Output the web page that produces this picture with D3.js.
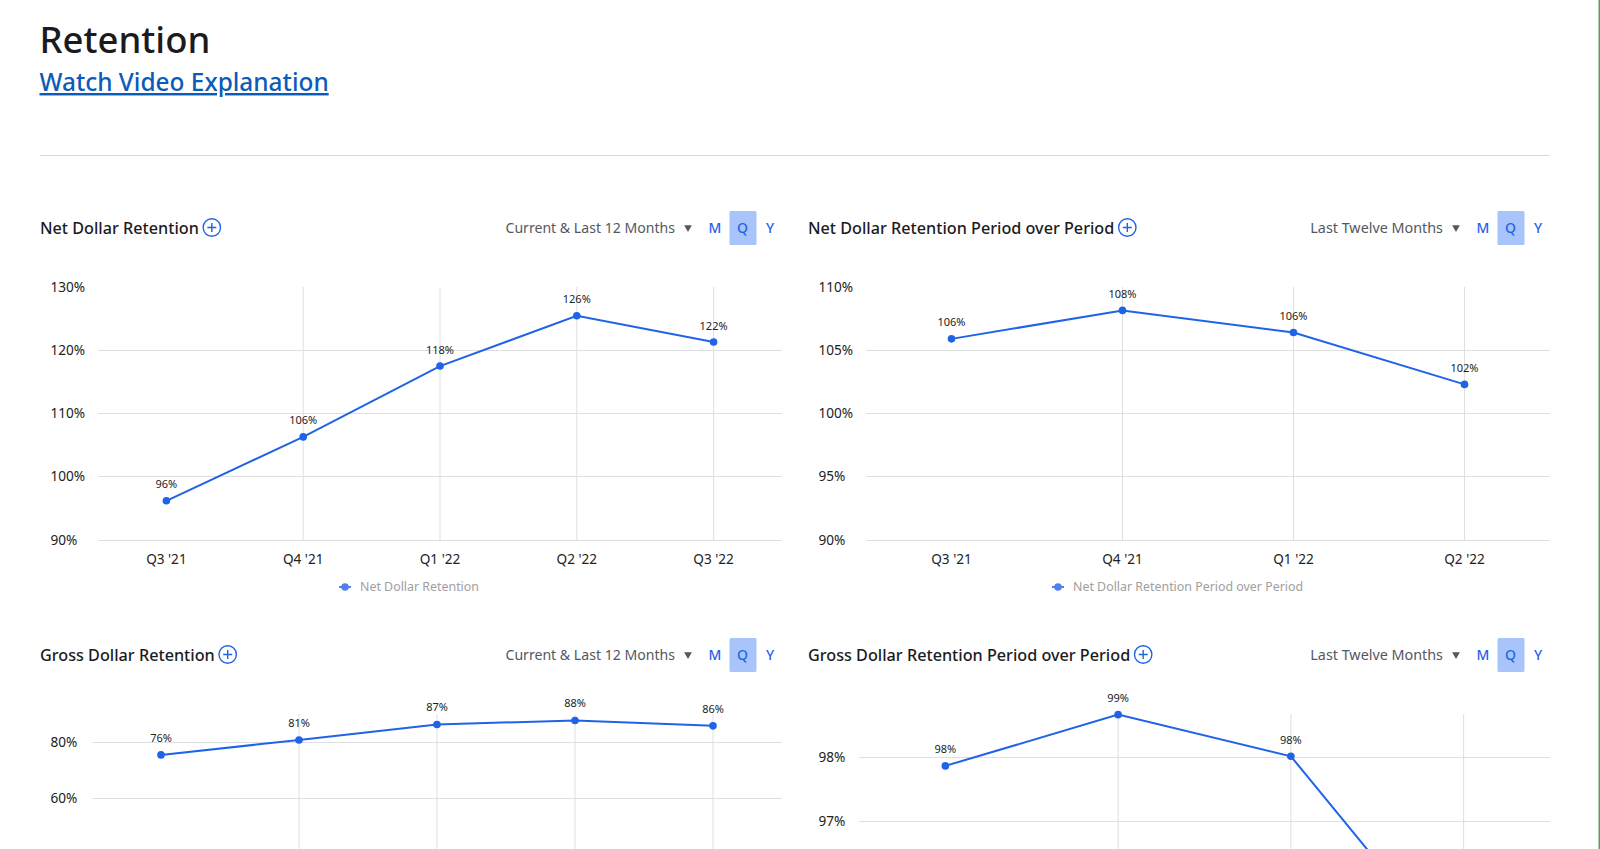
<!DOCTYPE html>
<html>
<head>
<meta charset="utf-8">
<title>Retention</title>
<script src="https://cdnjs.cloudflare.com/ajax/libs/d3/7.8.5/d3.min.js"></script>
<style>
  html, body { margin: 0; padding: 0; background: #fff; overflow: hidden; }
  svg { display: block; font-family: "Noto Sans", sans-serif; }
  .grid line { stroke: #dedfe3; stroke-width: 1; }
  .xaxis text, .yaxis text { fill: #222; font-size: 13.6px; }
  .point-label { fill: #222; font-size: 11px; text-anchor: middle; }
  .legend { fill: #a0a0a0; font-size: 12.4px; }
</style>
</head>
<body>
<svg id="page" width="1600" height="849"></svg>
<script>
// Page text
var pageTitle = "Retention";
var videoLink = "Watch Video Explanation";
var periodButtons = ["M", "Q", "Y"];

// Net Dollar Retention
var ndrQuarters = ["Q3 '21", "Q4 '21", "Q1 '22", "Q2 '22", "Q3 '22"];
var ndrValues = [96.2, 106.3, 117.5, 125.45, 121.3];
var ndrLabels = ["96%", "106%", "118%", "126%", "122%"];
var ndrTicks = [90, 100, 110, 120, 130];

// Net Dollar Retention Period over Period
var ndrPopQuarters = ["Q3 '21", "Q4 '21", "Q1 '22", "Q2 '22"];
var ndrPopValues = [105.9, 108.15, 106.4, 102.3];
var ndrPopLabels = ["106%", "108%", "106%", "102%"];
var ndrPopTicks = [90, 95, 100, 105, 110];

// Gross Dollar Retention
var gdrQuarters = ["Q3 '21", "Q4 '21", "Q1 '22", "Q2 '22", "Q3 '22"];
var gdrValues = [75.5, 80.8, 86.3, 87.7, 85.8];
var gdrLabels = ["76%", "81%", "87%", "88%", "86%"];
var gdrTicks = [0, 20, 40, 60, 80];

// Gross Dollar Retention Period over Period (last point falls below the fold)
var gdrPopQuarters = ["Q3 '21", "Q4 '21", "Q1 '22", "Q2 '22"];
var gdrPopValues = [97.87, 98.67, 98.02, 94.73];
var gdrPopLabels = ["98%", "99%", "98%", "95%"];
var gdrPopTicks = [95, 96, 97, 98];

var blue = "#1f63e8";
var svg = d3.select("#page");

// header
svg.append("text").attr("x", 39.5).attr("y", 53).attr("font-size", 36.5).attr("font-weight", 500).attr("fill", "#1b1b1d").text(pageTitle);
svg.append("text").attr("x", 39.5).attr("y", 91).attr("font-size", 24.4).attr("font-weight", 500).attr("fill", "#0b5cb8")
  .attr("text-decoration", "underline").text(videoLink);
svg.append("line").attr("x1", 40).attr("x2", 1550).attr("y1", 155.5).attr("y2", 155.5).attr("stroke", "#d6d8db");

// thin green edge at the right of the screenshot
svg.append("rect").attr("x", 1598.5).attr("y", 0).attr("width", 1.5).attr("height", 849).attr("fill", "#5f9a5f");

function drawPanel(opt) {
  var g = svg.append("g");
  var x = d3.scaleBand().domain(opt.quarters).range([opt.left, opt.right]);
  var y = d3.scaleLinear().domain(opt.domain).range([opt.bottom, opt.top]);
  var cx = function(d) { return x(d) + x.bandwidth() / 2; };

  // heading row
  var head = g.append("text").attr("x", opt.headX).attr("y", opt.headY + 6).attr("font-size", 16.2)
    .attr("font-weight", 500).attr("fill", "#1b1b1d").text(opt.title);
  var w = head.node().getComputedTextLength();
  var icon = g.append("g").attr("transform", "translate(" + (opt.headX + w + 13) + "," + opt.headY + ")")
    .attr("fill", "none").attr("stroke", blue).attr("stroke-width", 1.4);
  icon.append("circle").attr("r", 8.7);
  icon.append("path").attr("d", "M-4.5,0H4.5M0,-4.5V4.5");

  g.append("text").attr("x", opt.right - 107).attr("y", opt.headY + 5).attr("text-anchor", "end")
    .attr("font-size", opt.rangeSize).attr("fill", "#54585f").text(opt.range);
  g.append("path").attr("d", d3.symbol(d3.symbolTriangle, 26)()).attr("fill", "#54585f")
    .attr("transform", "translate(" + (opt.right - 94) + "," + opt.headY + ") rotate(180)");
  g.append("rect").attr("x", opt.right - 52.5).attr("y", opt.headY - 16.5).attr("width", 27).attr("height", 34)
    .attr("rx", 1.5).attr("fill", "#a9c3fb");
  periodButtons.forEach(function(b, i) {
    g.append("text").attr("x", opt.right - 67 + i * 27.5).attr("y", opt.headY + 5).attr("text-anchor", "middle")
      .attr("font-size", 14).attr("font-weight", 500).attr("fill", blue).text(b);
  });

  // horizontal grid
  g.append("g").attr("class", "grid").selectAll("line")
    .data(opt.ticks.filter(function(t) { return t !== opt.noGrid; })).enter().append("line")
    .attr("x1", opt.left).attr("x2", opt.right)
    .attr("y1", function(d) { return Math.floor(y(d)) + 0.5; })
    .attr("y2", function(d) { return Math.floor(y(d)) + 0.5; });

  // vertical grid, none at the first category
  g.append("g").attr("class", "grid").selectAll("line")
    .data(opt.quarters.slice(1)).enter().append("line")
    .attr("x1", cx).attr("x2", cx).attr("y1", opt.top).attr("y2", opt.bottom);

  // y axis labels
  g.append("g").attr("class", "yaxis").selectAll("text").data(opt.ticks).enter().append("text")
    .attr("x", opt.labelX).attr("y", function(d) { return y(d) + 4.5; }).text(function(d) { return d + "%"; });

  // x axis labels
  g.append("g").attr("class", "xaxis").selectAll("text").data(opt.quarters).enter().append("text")
    .attr("x", cx).attr("y", opt.bottom + 24).attr("text-anchor", "middle").text(function(d) { return d; });

  // series
  var line = d3.line().x(function(d, i) { return cx(opt.quarters[i]); }).y(function(d) { return y(d); });
  g.append("path").datum(opt.values).attr("d", line).attr("fill", "none").attr("stroke", blue).attr("stroke-width", 2);
  g.selectAll("circle.pt").data(opt.values).enter().append("circle").attr("class", "pt")
    .attr("cx", function(d, i) { return cx(opt.quarters[i]); }).attr("cy", function(d) { return y(d); })
    .attr("r", 3.8).attr("fill", blue);
  g.selectAll("text.point-label").data(opt.values).enter().append("text").attr("class", "point-label")
    .attr("x", function(d, i) { return cx(opt.quarters[i]); }).attr("y", function(d) { return y(d) - opt.labelGap; })
    .text(function(d, i) { return opt.labels[i]; });

  // legend
  if (opt.legendX) {
    var ly = opt.bottom + 47;
    g.append("line").attr("x1", opt.legendX).attr("x2", opt.legendX + 12).attr("y1", ly).attr("y2", ly)
      .attr("stroke", "#4f80f0").attr("stroke-width", 2);
    g.append("circle").attr("cx", opt.legendX + 6).attr("cy", ly).attr("r", 3.8).attr("fill", "#4f80f0");
    g.append("text").attr("class", "legend").attr("x", opt.legendX + 21).attr("y", ly + 4).text(opt.title);
  }
}

drawPanel({
  title: "Net Dollar Retention", range: "Current & Last 12 Months", headX: 40, rangeSize: 14.1, labelGap: 12.5,
  quarters: ndrQuarters, values: ndrValues, labels: ndrLabels, ticks: ndrTicks, domain: [90, 130], noGrid: 130,
  left: 98, right: 782, top: 287, bottom: 540, labelX: 50.5, headY: 227.5, legendX: 339
});
drawPanel({
  title: "Net Dollar Retention Period over Period", range: "Last Twelve Months", headX: 808, rangeSize: 14.35, labelGap: 12.5,
  quarters: ndrPopQuarters, values: ndrPopValues, labels: ndrPopLabels, ticks: ndrPopTicks, domain: [90, 110], noGrid: 110,
  left: 866, right: 1550, top: 287, bottom: 540, labelX: 818.5, headY: 227.5, legendX: 1052
});
drawPanel({
  title: "Gross Dollar Retention", range: "Current & Last 12 Months", headX: 40, rangeSize: 14.1, labelGap: 13,
  quarters: gdrQuarters, values: gdrValues, labels: gdrLabels, ticks: gdrTicks, domain: [0, 90], noGrid: null,
  left: 92, right: 782, top: 714, bottom: 968, labelX: 50.5, headY: 654.5
});
drawPanel({
  title: "Gross Dollar Retention Period over Period", range: "Last Twelve Months", headX: 808, rangeSize: 14.35, labelGap: 12.5,
  quarters: gdrPopQuarters, values: gdrPopValues, labels: gdrPopLabels, ticks: gdrPopTicks, domain: [94.73, 98.68], noGrid: null,
  left: 859, right: 1550, top: 714, bottom: 967, labelX: 818.5, headY: 654.5
});
</script>
</body>
</html>
